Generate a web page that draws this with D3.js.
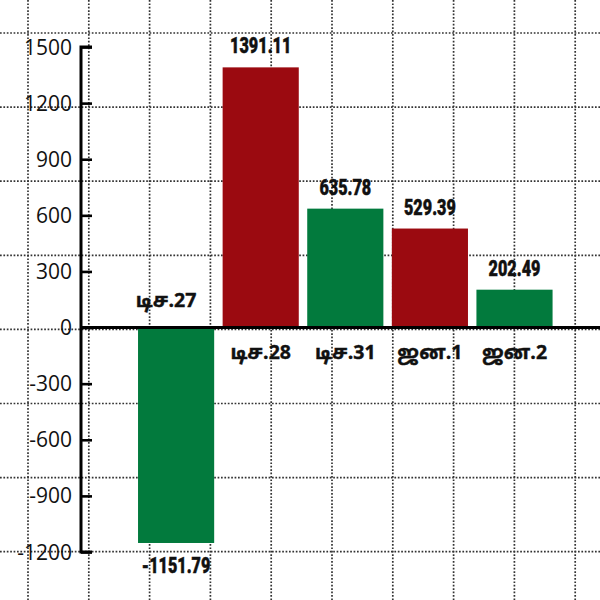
<!DOCTYPE html>
<html><head><meta charset="utf-8">
<script src="https://cdn.jsdelivr.net/npm/d3@7"></script>
<style>body{margin:0;background:#fff}svg{display:block}</style>
</head><body>
<script>
const categories = ["டிச.27","டிச.28","டிச.31","ஜன.1","ஜன.2"];
const values = [-1151.79, 1391.11, 635.78, 529.39, 202.49];
const valueLabels = ["-1151.79","1391.11","635.78","529.39","202.49"];
const barColors = ["#027a3d","#9b0a10","#027a3d","#9b0a10","#027a3d"];
const yTicks = [1500,1200,900,600,300,0,-300,-600,-900,-1200];

const W = 600, H = 600;
const svg = d3.select("body").append("svg").attr("width", W).attr("height", H);

// background graph-paper grid
const gridG = svg.append("g").attr("stroke","#333").attr("stroke-width",1.7).attr("stroke-dasharray","1.7,1.7");
const hLines = d3.range(33, 600, 74.1);
const vLines = d3.range(28, 600, 60.8);
gridG.selectAll("line.h").data(hLines).join("line").attr("x1",0).attr("x2",W).attr("y1",d=>d).attr("y2",d=>d);
gridG.selectAll("line.v").data(vLines).join("line").attr("y1",0).attr("y2",H).attr("x1",d=>d).attr("x2",d=>d);

const y = d3.scaleLinear().domain([-1200,1500]).range([552,47]);
const x = d3.scaleBand().domain(categories).range([133.8,556.8]).paddingInner(0.1).paddingOuter(0.05);

// bars
svg.append("g").selectAll("rect").data(values).join("rect")
  .attr("x",(d,i)=>x(categories[i]))
  .attr("width",x.bandwidth())
  .attr("y",d=>y(Math.max(0,d)))
  .attr("height",d=>Math.abs(y(d)-y(0)))
  .attr("fill",(d,i)=>barColors[i]);

// zero line
svg.append("line").attr("x1",80).attr("x2",W).attr("y1",y(0)).attr("y2",y(0)).attr("stroke","#000").attr("stroke-width",3);

// y axis
const axis = d3.axisRight(y).tickValues(yTicks).tickSize(11).tickFormat("");
const ag = svg.append("g").attr("transform","translate(81,0)").call(axis);
ag.select(".domain").attr("stroke","#000").attr("stroke-width",3).attr("d",`M11,${y(1500)}H0V${y(-1200)}H11`);
ag.selectAll(".tick line").attr("stroke","#000").attr("stroke-width",2.6);

svg.append("g").selectAll("text").data(yTicks).join("text")
  .attr("x",72).attr("y",d=>y(d)).attr("dy","0.36em")
  .attr("text-anchor","end")
  .attr("font-family","'Open Sans', 'Noto Sans', sans-serif")
  .attr("font-size",21).attr("fill","#111")
  .text(d=>d);

// value labels (condensed heavy)
svg.append("g").selectAll("text").data(values).join("text")
  .attr("transform",(d,i)=>`translate(${x(categories[i])+x.bandwidth()/2},${d>=0 ? y(d)-14 : y(d)+30}) scale(0.72,1)`)
  .attr("text-anchor","middle")
  .attr("font-family","Roboto,'Liberation Sans',sans-serif")
  .attr("font-weight","900").attr("font-size",22.5).attr("fill","#111")
  .attr("stroke","#111").attr("stroke-width",0.5)
  .text((d,i)=>valueLabels[i]);

// category labels
svg.append("g").selectAll("text").data(values).join("text")
  .attr("x",(d,i)=>x(categories[i])+x.bandwidth()/2 + (i===0?-10:0))
  .attr("y",d=> d>=0 ? y(0)+31 : y(0)-21)
  .attr("text-anchor","middle")
  .attr("font-family","'Noto Sans Tamil','Noto Sans','Lato',sans-serif")
  .attr("font-weight","bold").attr("font-size",19.5).attr("fill","#111")
  .attr("stroke","#111").attr("stroke-width",0.4)
  .text((d,i)=>categories[i]);
</script>
</body></html>
